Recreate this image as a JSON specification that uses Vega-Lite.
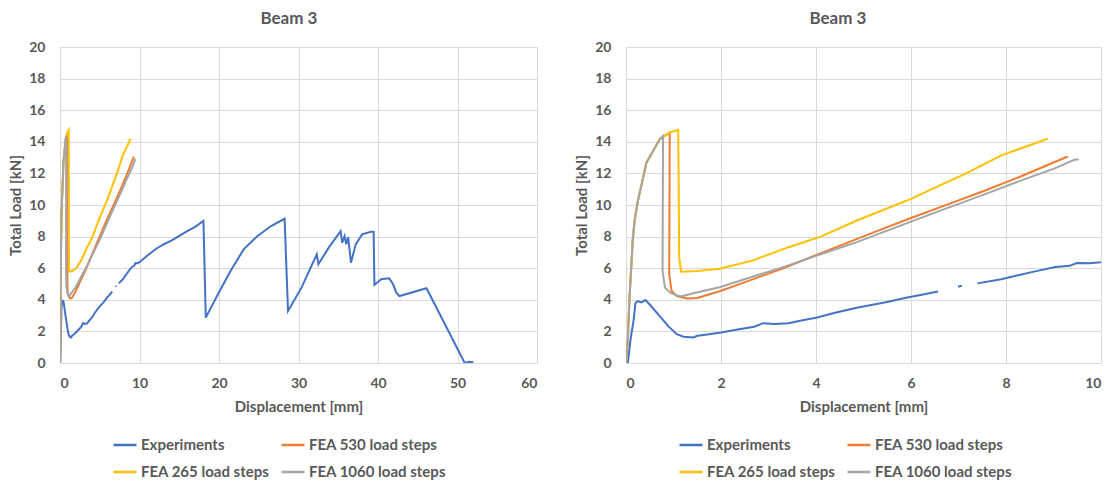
{
  "$schema": "https://vega.github.io/schema/vega-lite/v6.json",
  "background": "white",
  "padding": {"left": 8, "top": 10, "right": 4, "bottom": 0},
  "config": {
    "font": "Lato",
    "view": {"stroke": null},
    "axis": {"domain": false, "ticks": false, "gridColor": "#d9d9d9", "gridWidth": 1, "labelColor": "#595959", "labelFontSize": 14, "labelFontWeight": "bold", "titleColor": "#595959", "titleFontSize": 15, "titleFontWeight": "bold"},
    "axisY": {"labelPadding": 15, "titlePadding": 5},
    "axisX": {"labelPadding": 13, "titlePadding": 9},
    "title": {"fontSize": 17, "color": "#595959", "fontWeight": "bold", "offset": 12, "frame": "bounds"},
    "legend": {"orient": "none", "direction": "horizontal", "legendX": 52, "legendY": 385, "columns": 2, "labelColor": "#595959", "labelFontSize": 15, "labelFontWeight": "bold", "symbolType": "stroke", "symbolSize": 530, "symbolStrokeWidth": 2.5, "labelOffset": 3, "columnPadding": 6, "rowPadding": 6}
  },
  "datasets": {
    "d": [
      {"s": "Experiments", "g": "e1", "x": 0, "y": 0},
      {"s": "Experiments", "g": "e1", "x": 0.04, "y": 0.05},
      {"s": "Experiments", "g": "e1", "x": 0.1, "y": 1.6},
      {"s": "Experiments", "g": "e1", "x": 0.16, "y": 2.7},
      {"s": "Experiments", "g": "e1", "x": 0.2, "y": 3.8},
      {"s": "Experiments", "g": "e1", "x": 0.25, "y": 3.92},
      {"s": "Experiments", "g": "e1", "x": 0.32, "y": 3.83},
      {"s": "Experiments", "g": "e1", "x": 0.41, "y": 3.98},
      {"s": "Experiments", "g": "e1", "x": 0.5, "y": 3.7},
      {"s": "Experiments", "g": "e1", "x": 0.7, "y": 3.0},
      {"s": "Experiments", "g": "e1", "x": 0.9, "y": 2.3},
      {"s": "Experiments", "g": "e1", "x": 1.07, "y": 1.82},
      {"s": "Experiments", "g": "e1", "x": 1.21, "y": 1.66},
      {"s": "Experiments", "g": "e1", "x": 1.42, "y": 1.62},
      {"s": "Experiments", "g": "e1", "x": 1.5, "y": 1.72},
      {"s": "Experiments", "g": "e1", "x": 1.71, "y": 1.8},
      {"s": "Experiments", "g": "e1", "x": 2.0, "y": 1.93},
      {"s": "Experiments", "g": "e1", "x": 2.35, "y": 2.12},
      {"s": "Experiments", "g": "e1", "x": 2.7, "y": 2.3},
      {"s": "Experiments", "g": "e1", "x": 2.89, "y": 2.52},
      {"s": "Experiments", "g": "e1", "x": 3.11, "y": 2.47},
      {"s": "Experiments", "g": "e1", "x": 3.42, "y": 2.51},
      {"s": "Experiments", "g": "e1", "x": 3.64, "y": 2.66},
      {"s": "Experiments", "g": "e1", "x": 4.02, "y": 2.88},
      {"s": "Experiments", "g": "e1", "x": 4.4, "y": 3.18},
      {"s": "Experiments", "g": "e1", "x": 4.86, "y": 3.5},
      {"s": "Experiments", "g": "e1", "x": 5.47, "y": 3.84},
      {"s": "Experiments", "g": "e1", "x": 5.92, "y": 4.14},
      {"s": "Experiments", "g": "e1", "x": 6.2, "y": 4.3},
      {"s": "Experiments", "g": "e1", "x": 6.57, "y": 4.52},
      {"s": "Experiments", "g": "e2", "x": 6.99, "y": 4.83},
      {"s": "Experiments", "g": "e2", "x": 7.07, "y": 4.89},
      {"s": "Experiments", "g": "e3", "x": 7.4, "y": 5.04},
      {"s": "Experiments", "g": "e3", "x": 7.9, "y": 5.3},
      {"s": "Experiments", "g": "e3", "x": 8.28, "y": 5.57},
      {"s": "Experiments", "g": "e3", "x": 8.66, "y": 5.83},
      {"s": "Experiments", "g": "e3", "x": 9.04, "y": 6.08},
      {"s": "Experiments", "g": "e3", "x": 9.34, "y": 6.15},
      {"s": "Experiments", "g": "e3", "x": 9.49, "y": 6.33},
      {"s": "Experiments", "g": "e3", "x": 9.75, "y": 6.32},
      {"s": "Experiments", "g": "e3", "x": 10.0, "y": 6.38},
      {"s": "Experiments", "g": "e3", "x": 11.0, "y": 6.8},
      {"s": "Experiments", "g": "e3", "x": 12.0, "y": 7.2},
      {"s": "Experiments", "g": "e3", "x": 13.0, "y": 7.5},
      {"s": "Experiments", "g": "e3", "x": 14.0, "y": 7.75},
      {"s": "Experiments", "g": "e3", "x": 15.0, "y": 8.05},
      {"s": "Experiments", "g": "e3", "x": 16.0, "y": 8.35},
      {"s": "Experiments", "g": "e3", "x": 17.0, "y": 8.62},
      {"s": "Experiments", "g": "e3", "x": 18.04, "y": 8.99},
      {"s": "Experiments", "g": "e3", "x": 18.34, "y": 2.87},
      {"s": "Experiments", "g": "e3", "x": 19.75, "y": 4.24},
      {"s": "Experiments", "g": "e3", "x": 21.45, "y": 5.82},
      {"s": "Experiments", "g": "e3", "x": 23.1, "y": 7.19},
      {"s": "Experiments", "g": "e3", "x": 24.85, "y": 8.04},
      {"s": "Experiments", "g": "e3", "x": 26.55, "y": 8.67},
      {"s": "Experiments", "g": "e3", "x": 28.25, "y": 9.13},
      {"s": "Experiments", "g": "e3", "x": 28.68, "y": 3.29},
      {"s": "Experiments", "g": "e3", "x": 30.38, "y": 4.77},
      {"s": "Experiments", "g": "e3", "x": 32.3, "y": 6.88},
      {"s": "Experiments", "g": "e3", "x": 32.5, "y": 6.25},
      {"s": "Experiments", "g": "e3", "x": 33.8, "y": 7.3},
      {"s": "Experiments", "g": "e3", "x": 35.3, "y": 8.35},
      {"s": "Experiments", "g": "e3", "x": 35.5, "y": 7.61},
      {"s": "Experiments", "g": "e3", "x": 35.8, "y": 8.04},
      {"s": "Experiments", "g": "e3", "x": 36.0, "y": 7.51},
      {"s": "Experiments", "g": "e3", "x": 36.25, "y": 7.97},
      {"s": "Experiments", "g": "e3", "x": 36.6, "y": 6.35},
      {"s": "Experiments", "g": "e3", "x": 37.2, "y": 7.51},
      {"s": "Experiments", "g": "e3", "x": 38.0, "y": 8.14},
      {"s": "Experiments", "g": "e3", "x": 39.1, "y": 8.31},
      {"s": "Experiments", "g": "e3", "x": 39.45, "y": 8.3},
      {"s": "Experiments", "g": "e3", "x": 39.55, "y": 4.94},
      {"s": "Experiments", "g": "e3", "x": 40.4, "y": 5.3},
      {"s": "Experiments", "g": "e3", "x": 41.4, "y": 5.36},
      {"s": "Experiments", "g": "e3", "x": 41.9, "y": 4.98},
      {"s": "Experiments", "g": "e3", "x": 42.3, "y": 4.45},
      {"s": "Experiments", "g": "e3", "x": 42.7, "y": 4.24},
      {"s": "Experiments", "g": "e3", "x": 46.1, "y": 4.73},
      {"s": "Experiments", "g": "e3", "x": 49.5, "y": 1.39},
      {"s": "Experiments", "g": "e3", "x": 50.9, "y": 0.0},
      {"s": "Experiments", "g": "e3", "x": 51.5, "y": 0.08},
      {"s": "Experiments", "g": "e3", "x": 52.0, "y": 0.05},

      {"s": "FEA 530 load steps", "g": "o", "x": 0, "y": 0},
      {"s": "FEA 530 load steps", "g": "o", "x": 0.04, "y": 1.5},
      {"s": "FEA 530 load steps", "g": "o", "x": 0.07, "y": 3.9},
      {"s": "FEA 530 load steps", "g": "o", "x": 0.14, "y": 7.7},
      {"s": "FEA 530 load steps", "g": "o", "x": 0.18, "y": 9.0},
      {"s": "FEA 530 load steps", "g": "o", "x": 0.25, "y": 10.25},
      {"s": "FEA 530 load steps", "g": "o", "x": 0.36, "y": 11.73},
      {"s": "FEA 530 load steps", "g": "o", "x": 0.43, "y": 12.68},
      {"s": "FEA 530 load steps", "g": "o", "x": 0.57, "y": 13.42},
      {"s": "FEA 530 load steps", "g": "o", "x": 0.71, "y": 14.16},
      {"s": "FEA 530 load steps", "g": "o", "x": 0.85, "y": 14.45},
      {"s": "FEA 530 load steps", "g": "o", "x": 0.92, "y": 14.58},
      {"s": "FEA 530 load steps", "g": "o", "x": 0.91, "y": 5.61},
      {"s": "FEA 530 load steps", "g": "o", "x": 0.96, "y": 4.56},
      {"s": "FEA 530 load steps", "g": "o", "x": 1.07, "y": 4.24},
      {"s": "FEA 530 load steps", "g": "o", "x": 1.28, "y": 4.09},
      {"s": "FEA 530 load steps", "g": "o", "x": 1.5, "y": 4.12},
      {"s": "FEA 530 load steps", "g": "o", "x": 1.97, "y": 4.54},
      {"s": "FEA 530 load steps", "g": "o", "x": 2.58, "y": 5.2},
      {"s": "FEA 530 load steps", "g": "o", "x": 3.34, "y": 6.02},
      {"s": "FEA 530 load steps", "g": "o", "x": 4.02, "y": 6.86},
      {"s": "FEA 530 load steps", "g": "o", "x": 4.48, "y": 7.4},
      {"s": "FEA 530 load steps", "g": "o", "x": 5.24, "y": 8.3},
      {"s": "FEA 530 load steps", "g": "o", "x": 6.0, "y": 9.18},
      {"s": "FEA 530 load steps", "g": "o", "x": 6.76, "y": 10.02},
      {"s": "FEA 530 load steps", "g": "o", "x": 7.52, "y": 10.87},
      {"s": "FEA 530 load steps", "g": "o", "x": 8.28, "y": 11.77},
      {"s": "FEA 530 load steps", "g": "o", "x": 9.3, "y": 13.07},

      {"s": "FEA 265 load steps", "g": "y", "x": 0, "y": 0},
      {"s": "FEA 265 load steps", "g": "y", "x": 0.04, "y": 1.5},
      {"s": "FEA 265 load steps", "g": "y", "x": 0.07, "y": 3.9},
      {"s": "FEA 265 load steps", "g": "y", "x": 0.14, "y": 7.7},
      {"s": "FEA 265 load steps", "g": "y", "x": 0.18, "y": 9.0},
      {"s": "FEA 265 load steps", "g": "y", "x": 0.25, "y": 10.25},
      {"s": "FEA 265 load steps", "g": "y", "x": 0.36, "y": 11.73},
      {"s": "FEA 265 load steps", "g": "y", "x": 0.43, "y": 12.68},
      {"s": "FEA 265 load steps", "g": "y", "x": 0.57, "y": 13.42},
      {"s": "FEA 265 load steps", "g": "y", "x": 0.71, "y": 14.16},
      {"s": "FEA 265 load steps", "g": "y", "x": 0.85, "y": 14.45},
      {"s": "FEA 265 load steps", "g": "y", "x": 0.93, "y": 14.6},
      {"s": "FEA 265 load steps", "g": "y", "x": 1.1, "y": 14.75},
      {"s": "FEA 265 load steps", "g": "y", "x": 1.12, "y": 6.67},
      {"s": "FEA 265 load steps", "g": "y", "x": 1.16, "y": 5.78},
      {"s": "FEA 265 load steps", "g": "y", "x": 1.5, "y": 5.82},
      {"s": "FEA 265 load steps", "g": "y", "x": 1.97, "y": 5.96},
      {"s": "FEA 265 load steps", "g": "y", "x": 2.66, "y": 6.48},
      {"s": "FEA 265 load steps", "g": "y", "x": 3.42, "y": 7.33},
      {"s": "FEA 265 load steps", "g": "y", "x": 4.1, "y": 8.0},
      {"s": "FEA 265 load steps", "g": "y", "x": 4.86, "y": 9.02},
      {"s": "FEA 265 load steps", "g": "y", "x": 6.0, "y": 10.39},
      {"s": "FEA 265 load steps", "g": "y", "x": 6.38, "y": 10.92},
      {"s": "FEA 265 load steps", "g": "y", "x": 7.14, "y": 11.97},
      {"s": "FEA 265 load steps", "g": "y", "x": 7.9, "y": 13.14},
      {"s": "FEA 265 load steps", "g": "y", "x": 8.88, "y": 14.19},

      {"s": "FEA 1060 load steps", "g": "r", "x": 0, "y": 0},
      {"s": "FEA 1060 load steps", "g": "r", "x": 0.04, "y": 1.5},
      {"s": "FEA 1060 load steps", "g": "r", "x": 0.07, "y": 3.9},
      {"s": "FEA 1060 load steps", "g": "r", "x": 0.14, "y": 7.7},
      {"s": "FEA 1060 load steps", "g": "r", "x": 0.18, "y": 9.0},
      {"s": "FEA 1060 load steps", "g": "r", "x": 0.25, "y": 10.25},
      {"s": "FEA 1060 load steps", "g": "r", "x": 0.36, "y": 11.73},
      {"s": "FEA 1060 load steps", "g": "r", "x": 0.43, "y": 12.68},
      {"s": "FEA 1060 load steps", "g": "r", "x": 0.57, "y": 13.42},
      {"s": "FEA 1060 load steps", "g": "r", "x": 0.71, "y": 14.16},
      {"s": "FEA 1060 load steps", "g": "r", "x": 0.78, "y": 14.37},
      {"s": "FEA 1060 load steps", "g": "r", "x": 0.77, "y": 5.82},
      {"s": "FEA 1060 load steps", "g": "r", "x": 0.82, "y": 4.77},
      {"s": "FEA 1060 load steps", "g": "r", "x": 0.93, "y": 4.45},
      {"s": "FEA 1060 load steps", "g": "r", "x": 1.1, "y": 4.24},
      {"s": "FEA 1060 load steps", "g": "r", "x": 1.18, "y": 4.22},
      {"s": "FEA 1060 load steps", "g": "r", "x": 1.44, "y": 4.43},
      {"s": "FEA 1060 load steps", "g": "r", "x": 1.97, "y": 4.79},
      {"s": "FEA 1060 load steps", "g": "r", "x": 2.58, "y": 5.38},
      {"s": "FEA 1060 load steps", "g": "r", "x": 3.34, "y": 6.1},
      {"s": "FEA 1060 load steps", "g": "r", "x": 4.02, "y": 6.8},
      {"s": "FEA 1060 load steps", "g": "r", "x": 4.86, "y": 7.65},
      {"s": "FEA 1060 load steps", "g": "r", "x": 6.0, "y": 8.95},
      {"s": "FEA 1060 load steps", "g": "r", "x": 6.76, "y": 9.8},
      {"s": "FEA 1060 load steps", "g": "r", "x": 7.52, "y": 10.64},
      {"s": "FEA 1060 load steps", "g": "r", "x": 8.28, "y": 11.51},
      {"s": "FEA 1060 load steps", "g": "r", "x": 9.04, "y": 12.33},
      {"s": "FEA 1060 load steps", "g": "r", "x": 9.45, "y": 12.88},
      {"s": "FEA 1060 load steps", "g": "r", "x": 9.53, "y": 12.88}
    ]
  },
  "spacing": 37,
  "resolve": {"legend": {"color": "independent"}},
  "hconcat": [
    {
      "title": {"text": "Beam 3", "dx": 16},
      "width": 477,
      "height": 316,
      "data": {"name": "d"},
      "mark": {"type": "line", "strokeWidth": 2, "clip": true},
      "encoding": {
        "x": {"field": "x", "type": "quantitative", "scale": {"domain": [0, 60], "nice": false}, "axis": {"values": [0, 10, 20, 30, 40, 50, 60], "title": "Displacement [mm]"}},
        "y": {"field": "y", "type": "quantitative", "scale": {"domain": [0, 20], "nice": false}, "axis": {"values": [0, 2, 4, 6, 8, 10, 12, 14, 16, 18, 20], "title": "Total Load [kN]"}},
        "color": {"field": "s", "type": "nominal", "scale": {"domain": ["Experiments", "FEA 530 load steps", "FEA 265 load steps", "FEA 1060 load steps"], "range": ["#4472C4", "#ED7D31", "#FFC000", "#A5A5A5"]}, "legend": {"title": null}},
        "detail": {"field": "g"},
        "order": {"value": null}
      }
    },
    {
      "title": "Beam 3",
      "width": 475,
      "height": 316,
      "data": {"name": "d"},
      "mark": {"type": "line", "strokeWidth": 2, "clip": true},
      "encoding": {
        "x": {"field": "x", "type": "quantitative", "scale": {"domain": [0, 10], "nice": false}, "axis": {"values": [0, 2, 4, 6, 8, 10], "title": "Displacement [mm]"}},
        "y": {"field": "y", "type": "quantitative", "scale": {"domain": [0, 20], "nice": false}, "axis": {"values": [0, 2, 4, 6, 8, 10, 12, 14, 16, 18, 20], "title": "Total Load [kN]"}},
        "color": {"field": "s", "type": "nominal", "scale": {"domain": ["Experiments", "FEA 530 load steps", "FEA 265 load steps", "FEA 1060 load steps"], "range": ["#4472C4", "#ED7D31", "#FFC000", "#A5A5A5"]}, "legend": {"title": null}},
        "detail": {"field": "g"},
        "order": {"value": null}
      }
    }
  ]
}
